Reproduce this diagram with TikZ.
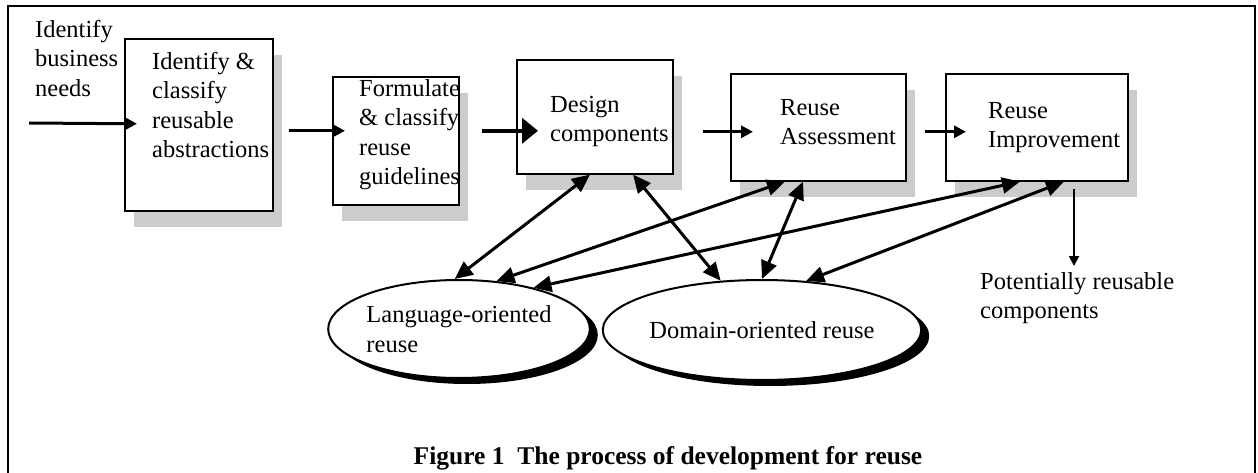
\documentclass[tikz,border=0pt]{standalone}
\usepackage{fontspec}
\setmainfont{Liberation Serif}
\usetikzlibrary{arrows.meta,shapes.geometric,shadows}

\begin{document}
\begin{tikzpicture}[x=1pt,y=-1pt,
  every node/.style={font=\fontsize{24.5}{29.5}\selectfont},
  procbox/.style={draw,line width=1.6pt,fill=white,anchor=north west,inner sep=0pt,
    drop shadow={shadow xshift=9pt,shadow yshift=-16pt,fill=black!20,opacity=1}},
  reusebox/.style={ellipse,draw,line width=2pt,fill=white,inner sep=0pt,align=left,
    drop shadow={shadow xshift=8pt,shadow yshift=-6pt,fill=black,opacity=1}},
  txt/.style={anchor=north west,inner sep=0pt,align=left},
  flow/.style={line width=3pt,-{Triangle[length=12pt,width=12pt]}},
  bigflow/.style={line width=4pt,-{Triangle[length=16pt,width=25pt]}},
  outflow/.style={line width=2pt,-{Triangle[length=10pt,width=10pt]}},
  link/.style={line width=3pt,{Triangle[length=18pt,width=16pt]}-{Triangle[length=18pt,width=16pt]}}]
\useasboundingbox (0,0) rectangle (1258,473);
% frame
\draw[line width=2.5pt] (8,473) -- (8,6) -- (1255,6) -- (1255,473);
% process boxes
\node[procbox,minimum width=148pt,minimum height=172pt] (ident) at (124,38) {};
\node[procbox,minimum width=126pt,minimum height=128pt] (formu) at (332,76) {};
\node[procbox,minimum width=156pt,minimum height=114pt] (design) at (516,59) {};
\node[procbox,minimum width=175pt,minimum height=107pt] (assess) at (730,73) {};
\node[procbox,minimum width=182pt,minimum height=107pt] (impr) at (945,73) {};
% box texts
\node[txt] (needs) at (35,20) {Identify\\business\\needs};
\node[txt] (identtxt) at (152,52) {Identify \&\\classify\\reusable\\abstractions};
\node[txt] (formutxt) at (359,79) {Formulate\\\& classify\\reuse\\guidelines};
\node[txt] (designtxt) at (550,96) {Design\\components};
\node[txt] (assesstxt) at (780,99) {Reuse\\Assessment};
\node[txt] (imprtxt) at (988,102) {Reuse\\Improvement};
\node[txt] (pot) at (980,272) {Potentially reusable\\components};
% kinds of reuse
\node[reusebox,minimum width=258pt,minimum height=98pt] (lang) at (459,329) {Language-oriented\\reuse};
\node[reusebox,minimum width=264pt,minimum height=100pt] (dom) at (762,330) {Domain-oriented reuse};
% main flow
\coordinate (inflow) at (29,123);
\draw[flow] (inflow) -- ([xshift=13pt,yshift=1pt]ident.west);
\draw[flow] ([xshift=15pt,yshift=-6pt]ident.east) -- ([xshift=13pt,yshift=10pt]formu.west);
\draw[bigflow] ([xshift=22pt,yshift=10pt]formu.east) -- ([xshift=22pt,yshift=-14pt]design.west);
\draw[flow] ([xshift=29pt,yshift=-15pt]design.east) -- ([xshift=23pt,yshift=-4.5pt]assess.west);
\draw[flow] ([xshift=18pt,yshift=-4.5pt]assess.east) -- ([xshift=21pt,yshift=-4.5pt]impr.west);
\coordinate (outtop) at ([xshift=129pt,yshift=-7pt]impr.south west);
\draw[outflow,shorten >=6pt] (outtop) -- (outtop |- pot.north);
% links to the kinds of reuse
\draw[link] ([xshift=74pt]design.south west) -- (lang.95);
\draw[link] ([xshift=117pt]design.south west) -- (dom.130);
\draw[link] ([xshift=55pt]assess.south west) -- (lang.52);
\draw[link] ([xshift=73pt]assess.south west) -- (dom.90);
\draw[link] ([xshift=75pt]impr.south west) -- (lang.29);
\draw[link] ([xshift=119pt]impr.south west) -- (dom.48);
% caption
\node[font=\fontsize{25.5}{30}\selectfont\bfseries] (caption) at (668,458) {Figure 1~~The process of development for reuse};
\end{tikzpicture}
\end{document}
